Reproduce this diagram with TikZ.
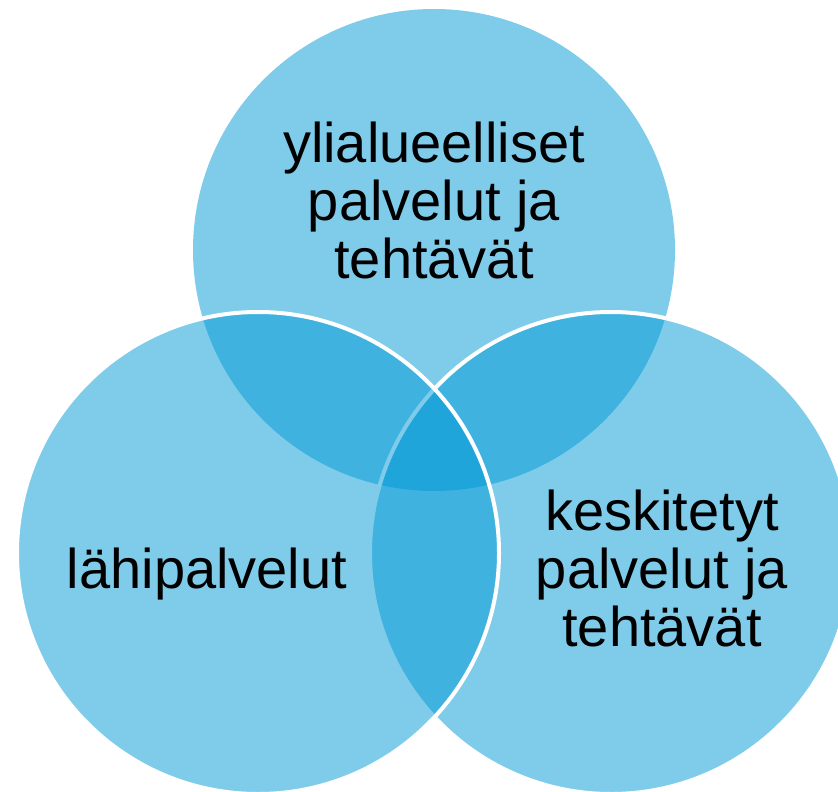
\documentclass[tikz,border=0pt]{standalone}
\usepackage{fontspec}
\setmainfont{Liberation Sans}
\usepackage{tikz}
\usepackage{xcolor}
\definecolor{vennblue}{RGB}{0,153,213}
\tikzstyle{venn} = [circle, fill=vennblue, fill opacity=0.5, minimum size=482pt, inner sep=0pt]
\tikzstyle{ring} = [venn, draw=white, draw opacity=1, line width=4pt]
\tikzstyle{lbl} = [align=center, text=black, inner sep=0pt, font=\fontsize{56}{58}\selectfont]

\begin{document}
\begin{tikzpicture}[x=1pt,y=-1pt]
  \useasboundingbox (0,0) rectangle (838,792);
  \node[venn] (ylia) at (434,250) {};
  \node[ring] (keski) at (611,553) {};
  \node[ring] (lahi) at (258,553) {};

  \node[lbl] (ylia_txt) at (434,200) {ylialueelliset\\palvelut ja\\tehtävät};
  \node[lbl] (keski_txt) at (662,568) {keskitetyt\\palvelut ja\\tehtävät};
  \node[lbl] (lahi_txt) at (207,574) {lähipalvelut};
\end{tikzpicture}
\end{document}
